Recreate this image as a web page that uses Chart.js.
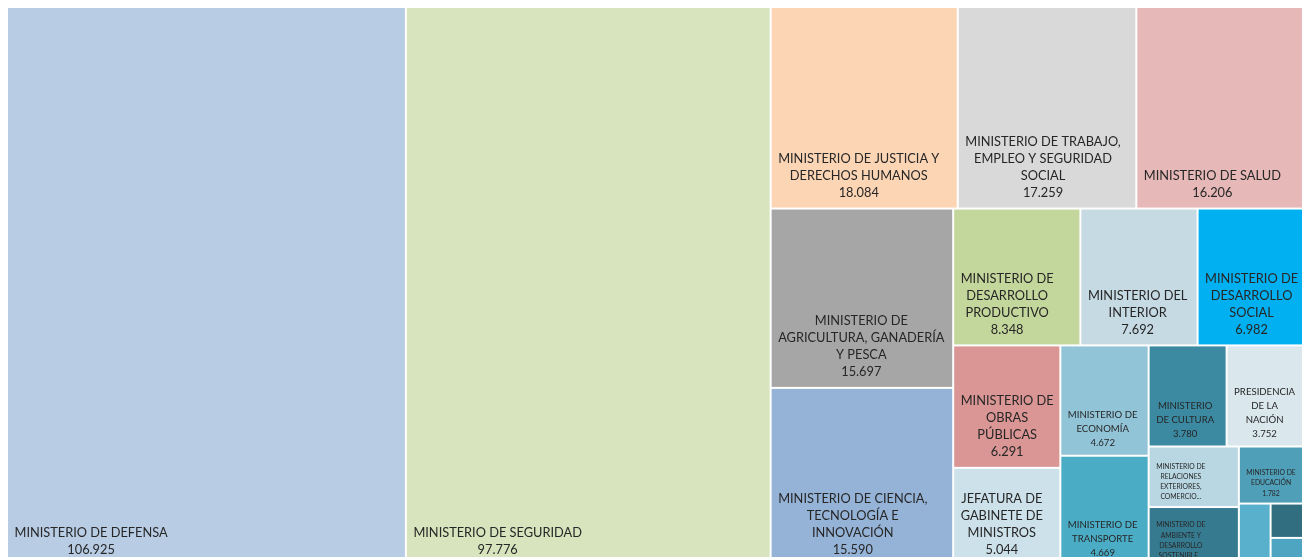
<!DOCTYPE html>
<html>
<head>
<meta charset="utf-8">
<script src="https://cdn.jsdelivr.net/npm/chart.js@4.4.1/dist/chart.umd.min.js"></script>
<style>
  html, body { margin: 0; padding: 0; background: #ffffff; overflow: hidden; }
  #wrap { width: 1304px; height: 566px; }
</style>
</head>
<body>
<div id="wrap"><canvas id="treemapChart" width="1304" height="566"></canvas></div>
<script>
// Presupuesto por jurisdicción (millones), ordenado de mayor a menor
const categories = [
    'MINISTERIO DE DEFENSA',
    'MINISTERIO DE SEGURIDAD',
    'MINISTERIO DE JUSTICIA Y DERECHOS HUMANOS',
    'MINISTERIO DE TRABAJO, EMPLEO Y SEGURIDAD SOCIAL',
    'MINISTERIO DE SALUD',
    'MINISTERIO DE AGRICULTURA, GANADERÍA Y PESCA',
    'MINISTERIO DE CIENCIA, TECNOLOGÍA E INNOVACIÓN',
    'MINISTERIO DE DESARROLLO PRODUCTIVO',
    'MINISTERIO DEL INTERIOR',
    'MINISTERIO DE DESARROLLO SOCIAL',
    'MINISTERIO DE OBRAS PÚBLICAS',
    'JEFATURA DE GABINETE DE MINISTROS',
    'MINISTERIO DE ECONOMÍA',
    'MINISTERIO DE TRANSPORTE',
    'MINISTERIO DE CULTURA',
    'PRESIDENCIA DE LA NACIÓN',
    'MINISTERIO DE RELACIONES EXTERIORES, COMERCIO INTERNACIONAL Y CULTO',
    'MINISTERIO DE AMBIENTE Y DESARROLLO SOSTENIBLE',
    'MINISTERIO DE EDUCACIÓN',
    'MINISTERIO DE TURISMO Y DEPORTES',
    'MINISTERIO DE DESARROLLO TERRITORIAL Y HÁBITAT',
    'MINISTERIO DE LAS MUJERES, GÉNEROS Y DIVERSIDAD'
];

const values = [
    106925, 97776, 18084, 17259, 16206, 15697, 15590, 8348, 7692, 6982,
    6291, 5044, 4672, 4669, 3780, 3752, 2620, 2550, 1782, 950, 550, 450
];

const colors = [
    '#B8CCE4', '#D7E4BD', '#FCD5B5', '#D9D9D9', '#E6B9B8', '#A6A6A6', '#95B3D7',
    '#C3D69B', '#C6DAE4', '#00B0F0', '#D99694', '#CDE1EA', '#92C4D8', '#4BACC6',
    '#3B8AA2', '#DAE8EE', '#B9D7E3', '#367A8F', '#4F9FB8', '#58B0CC', '#316E80',
    '#4DA5C2'
];

// formato con punto de miles: 106925 -> 106.925
function formatValue(v) {
    return String(v).replace(/\B(?=(\d{3})+(?!\d))/g, '.');
}

// squarified treemap, rects in scale units, aspect decided in pixels
function squarify(vals, kx, ky) {
    const total = vals.reduce((a, b) => a + b, 0);
    let items = vals.map((v, i) => ({ i, a: v / total * kx * ky })); // pixel areas
    let r = { x: 0, y: 0, w: 1, h: 1 };
    const cells = [];

    function worst(row, side) {
        const s = row.reduce((a, it) => a + it.a, 0);
        let w = 0;
        row.forEach(it => {
            const q = Math.max(side * side * it.a / (s * s), (s * s) / (side * side * it.a));
            if (q > w) w = q;
        });
        return w;
    }

    while (items.length) {
        const pw = r.w * kx, ph = r.h * ky;
        const alongWidth = pw < ph; // row goes along the shorter side
        const side = Math.min(pw, ph);
        let row = [items[0]];
        let k = 1;
        while (k < items.length) {
            const next = row.concat([items[k]]);
            if (worst(next, side) <= worst(row, side)) { row = next; k++; } else break;
        }
        const s = row.reduce((a, it) => a + it.a, 0);
        if (alongWidth) {
            const dy = (s / pw) / ky;
            let x = r.x;
            row.forEach(it => {
                const w = it.a / s * r.w;
                cells.push({ i: it.i, x, y: r.y, w, h: dy });
                x += w;
            });
            r = { x: r.x, y: r.y + dy, w: r.w, h: r.h - dy };
        } else {
            const dx = (s / ph) / kx;
            let y = r.y;
            row.forEach(it => {
                const h = it.a / s * r.h;
                cells.push({ i: it.i, x: r.x, y, w: dx, h });
                y += h;
            });
            r = { x: r.x + dx, y: r.y, w: r.w - dx, h: r.h };
        }
        items = items.slice(row.length);
    }
    return cells;
}

function wrapText(ctx, text, maxW) {
    const words = text.split(' ');
    const lines = [];
    let cur = '';
    words.forEach(w => {
        const test = cur ? cur + ' ' + w : w;
        if (cur && ctx.measureText(test).width > maxW) {
            lines.push(cur);
            cur = w;
        } else {
            cur = test;
        }
    });
    if (cur) lines.push(cur);
    return lines;
}

const treemapPlugin = {
    id: 'treemap',
    beforeDatasetsDraw(chart) {
        const ctx = chart.ctx;
        const xs = chart.scales.x, ys = chart.scales.y;
        const area = chart.chartArea;
        const cells = squarify(values, area.right - area.left, area.bottom - area.top);

        cells.forEach(c => {
            const x0 = xs.getPixelForValue(c.x), x1 = xs.getPixelForValue(c.x + c.w);
            const y0 = ys.getPixelForValue(c.y), y1 = ys.getPixelForValue(c.y + c.h);
            const w = x1 - x0, h = y1 - y0;
            ctx.save();
            ctx.fillStyle = colors[c.i];
            ctx.fillRect(x0 + 1, y0 + 1, w - 2, h - 2);

            // label size depends on the cell size
            const m = Math.min(w, h);
            let size, lh, pad;
            if (m >= 90) { size = 12.8; lh = 17; pad = 7.5; }
            else if (m >= 62) { size = 9.6; lh = 14; pad = 6; }
            else if (m >= 40) { size = 6.8; lh = 10.2; pad = 5; }
            else { ctx.restore(); return; }

            ctx.beginPath();
            ctx.rect(x0 + 1, y0 + 1, w - 2, h - 2);
            ctx.clip();
            ctx.font = size + 'px Lato, Carlito, Calibri, sans-serif';
            ctx.fillStyle = '#262626';
            ctx.textAlign = 'center';
            ctx.textBaseline = 'middle';

            let lines = wrapText(ctx, categories[c.i], w - 12);
            lines.push(formatValue(values[c.i]));
            const maxLines = Math.floor((h - 14) / lh);
            if (lines.length > maxLines) {
                lines = lines.slice(0, maxLines);
                lines[maxLines - 1] += '...';
            }
            const blockW = Math.max(...lines.map(l => ctx.measureText(l).width));
            const cx = x0 + 7.5 + blockW / 2;
            const lastY = y1 - pad - lh / 2;
            lines.forEach((l, n) => {
                ctx.fillText(l, cx, lastY - (lines.length - 1 - n) * lh);
            });
            ctx.restore();
        });
    }
};

document.addEventListener('DOMContentLoaded', function () {
    const ctx = document.getElementById('treemapChart').getContext('2d');
    new Chart(ctx, {
        type: 'scatter',
        data: { datasets: [] },
        options: {
            responsive: false,
            animation: false,
            layout: { padding: { left: 7, top: 7, right: 0, bottom: 0 } },
            plugins: { legend: { display: false }, tooltip: { enabled: false } },
            scales: {
                x: { type: 'linear', min: 0, max: 1, display: false },
                y: { type: 'linear', min: 0, max: 1, reverse: true, display: false }
            }
        },
        plugins: [treemapPlugin]
    });
});
</script>
</body>
</html>
